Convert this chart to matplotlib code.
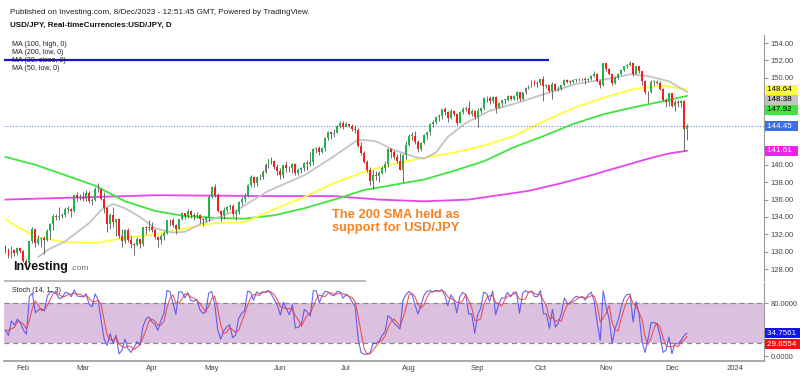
import numpy as np
import pandas as pd
import matplotlib
matplotlib.use("Agg")
import matplotlib.pyplot as plt
from matplotlib.transforms import blended_transform_factory
from matplotlib.lines import Line2D

plt.rcParams['font.family'] = ['Liberation Sans', 'DejaVu Sans']

# daily USD/JPY bars, 24 Jan 2023 - 8 Dec 2023 (open = previous close)
closes = [
    130.17, 129.57, 130.24, 129.87, 130.38, 130.09,
    128.93, 128.66, 131.19, 132.62, 131.06, 131.43, 131.53, 131.36, 132.43, 133.15,
    134.10, 133.95, 134.16, 134.25, 134.93, 134.95, 134.72, 136.47, 136.22, 136.18,
    136.12, 136.74, 135.86, 135.93, 137.16, 137.24, 136.08, 135.02, 133.22, 134.21, 133.40, 133.73,
    131.83, 131.29, 132.49, 131.41, 130.84, 130.73, 131.48, 130.91, 132.85, 132.72, 132.86,
    132.46, 131.69, 131.30, 131.77, 132.19, 133.65, 133.68, 133.09, 132.61, 133.78,
    134.47, 134.11, 134.70, 134.22, 134.14, 134.27, 133.72, 133.65, 133.93, 136.27,
    137.45, 136.55, 134.66, 134.23, 134.83, 135.11, 135.28, 134.35, 134.53, 135.72, 136.10, 136.40,
    137.70, 138.60, 137.96, 138.61, 138.57, 139.21, 139.98, 140.62, 140.39, 139.78, 139.32,
    138.80, 139.92, 139.58, 139.62, 140.13, 139.00, 139.38, 139.62, 140.16, 140.06, 140.27,
    141.84, 141.94, 141.45, 141.89, 143.09, 143.72, 143.50, 143.62, 144.46, 144.79, 144.31,
    144.67, 144.51, 144.11, 144.05, 142.14, 141.31, 140.36, 139.38, 138.09, 138.81, 138.74,
    139.03, 139.66, 140.08, 141.79, 141.52, 140.89, 140.40, 139.44, 141.18, 142.29,
    143.34, 143.36, 142.57, 141.76, 142.47, 143.38, 143.75, 144.70, 144.95, 145.53, 145.60, 146.38,
    146.11, 145.38, 146.20, 145.88, 144.83, 146.07, 146.42, 146.53, 145.87, 146.21, 145.54,
    146.22, 146.48, 147.67, 147.69, 147.28, 147.83, 146.58, 147.11, 147.46, 147.46, 147.85,
    147.61, 147.86, 148.35, 147.58, 148.36, 148.86, 149.06, 149.62, 149.31, 149.37,
    149.86, 149.02, 149.12, 148.50, 149.32, 148.55, 148.74, 149.14, 149.80, 149.57, 149.55,
    149.78, 149.88, 149.82, 149.86, 149.71, 149.91, 150.20, 150.38, 149.63, 149.12, 151.67,
    150.96, 150.43, 149.38, 150.02, 150.38, 150.94, 151.35, 151.51, 151.70, 150.40, 151.35,
    150.76, 149.62, 148.32, 148.38, 149.55, 149.57, 149.44, 148.66, 147.43, 147.19, 148.20,
    146.80, 147.22, 147.16, 147.28, 144.12, 144.45,
]
highs = [
    130.80, 130.45, 130.62, 130.30, 130.50, 130.47,
    130.20, 129.20, 131.20, 132.90, 132.65, 131.90, 131.70, 131.85, 132.60, 133.30,
    134.30, 134.35, 135.10, 134.45, 135.20, 135.30, 135.00, 136.50, 136.90, 136.65,
    136.90, 137.10, 136.95, 136.20, 137.40, 137.91, 137.30, 136.90, 135.10, 134.50, 135.10, 133.80,
    133.90, 132.60, 132.60, 132.70, 131.80, 131.00, 131.70, 131.50, 132.90, 133.00, 133.60,
    133.40, 132.60, 131.80, 132.00, 132.40, 133.70, 133.80, 133.90, 133.20, 133.80,
    134.60, 134.50, 134.90, 134.80, 134.40, 134.60, 134.30, 133.90, 134.10, 136.50,
    137.60, 137.80, 136.70, 134.80, 135.10, 135.30, 135.50, 135.50, 134.80, 135.80, 136.30, 136.70,
    137.80, 138.80, 138.75, 138.70, 138.90, 139.40, 140.20, 140.70, 140.90, 140.50, 140.10,
    139.60, 140.00, 140.40, 139.90, 140.20, 140.20, 139.60, 139.70, 140.30, 140.50, 141.50,
    141.90, 142.00, 142.20, 142.00, 143.20, 143.90, 143.80, 144.10, 144.60, 145.00, 145.05,
    144.90, 144.70, 144.70, 144.60, 144.20, 142.60, 141.60, 140.60, 139.70, 139.40, 139.30,
    139.30, 139.90, 140.40, 141.90, 141.90, 141.70, 141.20, 141.30, 141.20, 142.70,
    143.50, 143.80, 143.90, 142.90, 142.60, 143.50, 143.80, 144.80, 145.20, 145.60, 145.80, 146.40,
    146.60, 146.20, 146.40, 146.30, 146.00, 146.20, 146.60, 146.80, 147.30, 146.40, 146.30,
    146.50, 146.60, 147.80, 147.90, 147.90, 147.90, 147.90, 147.20, 147.50, 147.60, 148.00,
    148.00, 148.00, 148.50, 148.40, 148.40, 148.90, 149.20, 149.70, 149.70, 149.60,
    149.90, 150.16, 149.30, 149.20, 149.50, 149.40, 149.00, 149.20, 149.90, 149.90, 149.70,
    149.90, 149.90, 150.00, 150.00, 150.10, 150.00, 150.30, 150.78, 150.50, 149.70, 151.72,
    151.70, 151.10, 150.60, 150.20, 150.50, 151.00, 151.40, 151.60, 151.91, 151.80, 151.40,
    151.40, 150.80, 149.70, 148.50, 149.70, 149.70, 149.80, 149.60, 148.80, 147.70, 148.30,
    148.30, 147.40, 147.40, 147.50, 147.40, 144.65,
]
lows = [
    129.90, 129.33, 129.30, 129.50, 129.65, 129.90,
    128.80, 128.08, 128.40, 131.00, 130.50, 130.80, 130.50, 129.80, 131.20, 131.50,
    132.50, 133.60, 133.60, 133.90, 134.00, 134.50, 134.05, 134.60, 135.80, 135.90,
    135.80, 135.80, 135.60, 135.40, 135.80, 136.90, 135.90, 134.50, 132.30, 132.60, 132.90, 131.80,
    131.60, 130.60, 131.00, 131.10, 130.40, 129.64, 130.70, 130.40, 130.70, 132.10, 132.40,
    132.30, 131.50, 130.60, 130.90, 131.40, 132.10, 133.00, 132.80, 132.00, 132.60,
    133.60, 133.80, 133.90, 133.90, 133.60, 133.90, 133.30, 133.00, 133.40, 133.50,
    136.20, 136.30, 134.60, 133.50, 133.80, 134.60, 134.80, 134.00, 133.70, 134.30, 135.40, 135.70,
    136.30, 137.50, 137.50, 137.60, 138.20, 138.40, 139.10, 139.60, 140.10, 139.50, 138.80,
    138.40, 138.50, 139.20, 139.20, 139.10, 138.80, 138.80, 139.10, 139.30, 139.40, 139.90,
    140.00, 141.40, 141.10, 141.30, 141.60, 142.90, 143.00, 143.20, 143.60, 144.20, 144.10,
    144.30, 144.40, 143.90, 143.70, 142.10, 141.10, 140.20, 139.20, 137.70, 137.24, 138.30,
    138.00, 138.90, 139.20, 139.70, 140.80, 140.70, 140.20, 139.40, 138.05, 140.70,
    142.20, 142.80, 142.40, 141.50, 141.60, 142.40, 143.00, 143.40, 144.30, 144.70, 145.00, 145.30,
    145.70, 144.90, 145.30, 145.60, 144.60, 144.80, 145.80, 146.20, 145.70, 145.60, 145.30,
    144.40, 146.00, 146.30, 147.20, 147.00, 147.10, 145.90, 146.50, 146.80, 147.00, 147.30,
    147.40, 147.50, 147.50, 147.30, 147.50, 148.10, 148.70, 148.90, 149.10, 148.90,
    149.20, 147.30, 148.80, 148.40, 147.60, 148.50, 148.50, 148.60, 149.00, 149.40, 149.30,
    149.40, 149.50, 149.60, 149.60, 149.30, 149.60, 149.80, 150.10, 149.50, 148.80, 149.00,
    150.80, 150.30, 149.20, 149.30, 149.90, 150.30, 150.80, 151.10, 151.30, 150.20, 150.40,
    150.50, 149.20, 148.10, 147.15, 148.30, 149.10, 149.30, 148.60, 147.30, 146.70, 146.80,
    146.60, 146.20, 146.60, 146.70, 141.60, 142.90,
]

# bars before the visible window (3 - 23 Jan), only used for the stochastic
pre_closes = [130.90, 132.40, 133.40, 132.10, 131.90, 132.20, 132.40, 129.20, 127.90,
              128.50, 128.10, 128.90, 128.40, 129.60, 130.66]
pre_highs = [131.40, 132.70, 134.05, 134.78, 132.70, 132.30, 132.70, 132.90, 129.60,
             128.90, 129.00, 131.60, 129.00, 130.60, 130.90]
pre_lows = [129.50, 130.60, 132.20, 131.90, 131.50, 131.30, 131.90, 128.90, 127.50,
            127.20, 127.80, 128.00, 127.60, 128.30, 129.50]

# moving averages (bar index, price)
ma100_x = [0, 10, 20, 30, 40, 50, 60, 70, 80, 90, 100, 110, 120, 130, 140, 150, 160,
           170, 180, 190, 200, 210, 220, 228]
ma100_y = [140.9, 140.0, 138.8, 137.6, 135.8, 134.7, 134.1, 133.9, 133.8, 134.2, 135.0,
           136.0, 137.1, 137.7, 138.3, 139.3, 140.4, 142.0, 143.3, 144.7, 145.8, 146.6,
           147.3, 147.92]
ma50_x = ma100_x
ma50_y = [133.7, 131.7, 131.1, 131.0, 131.6, 132.0, 132.7, 133.3, 133.4, 134.9, 136.3,
          137.9, 139.2, 140.1, 140.8, 141.4, 142.2, 143.3, 145.0, 146.5, 147.7, 148.7,
          149.1, 148.64]
ma20_x = [11, 14, 20, 28, 32, 36, 40, 45, 50, 56, 60, 66, 77, 88, 100, 110, 118, 124,
          130, 137, 140, 144, 148, 154, 162, 172, 180, 191, 202, 209, 215, 222, 228]
ma20_y = [129.4, 130.2, 131.2, 133.3, 134.8, 135.5, 135.0, 134.0, 132.7, 132.2, 132.3,
          133.3, 134.7, 137.0, 138.8, 141.0, 142.9, 142.7, 141.7, 140.9, 140.7, 141.4,
          143.2, 144.8, 146.2, 147.2, 148.1, 149.3, 149.9, 150.4, 150.2, 149.6, 148.38]
ma200_x = [0, 30, 50, 90, 110, 125, 140, 155, 165, 175, 185, 195, 205, 215, 222, 228]
ma200_y = [136.0, 136.3, 136.5, 136.4, 136.4, 136.0, 135.8, 136.0, 136.5, 137.0, 137.8,
           138.7, 139.7, 140.7, 141.3, 141.61]

resistance = 152.05
resistance_end = "2023-10-05"
month_labels = ["Feb", "Mar", "Apr", "May", "Jun", "Jul", "Aug", "Sep", "Oct", "Nov", "Dec", "2024"]
price_ticks = [128, 130, 132, 134, 136, 138, 140, 150, 152, 154]   # others sit under the value boxes
stoch_ticks = [0, 80]

dates = pd.bdate_range("2023-01-24", "2023-12-08")
idx = np.arange(len(dates))
c = np.array(closes)
h = np.array(highs)
l = np.array(lows)
o = np.r_[pre_closes[-1], c[:-1]]

# stochastic (14, 1, 3)
allc = pd.Series(pre_closes + closes)
allh = pd.Series(pre_highs + highs)
alll = pd.Series(pre_lows + lows)
hh = allh.rolling(14).max()
ll = alll.rolling(14).min()
k = 100 * (allc - ll) / (hh - ll)
d = k.rolling(3).mean()
k = k.values[len(pre_closes):]
d = d.values[len(pre_closes):]

W, H = 800, 376
fig = plt.figure(figsize=(W / 100, H / 100), dpi=100)
def fx(px): return px / W
def fy(py): return 1 - py / H

ax = fig.add_axes([fx(4), fy(281), fx(764) - fx(4), fy(35) - fy(281)])
ax2 = fig.add_axes([fx(4), fy(361), fx(764) - fx(4), fy(283) - fy(361)], sharex=ax)

# moving averages
ax.plot(ma200_x, ma200_y, color="#e845ef", lw=1.3, zorder=1)
ax.plot(ma100_x, ma100_y, color="#3fe43f", lw=1.3, zorder=1)
ax.plot(ma50_x, ma50_y, color="#ffff3a", lw=1.3, zorder=1)
ax.plot(ma20_x, ma20_y, color="#c4c4c4", lw=1.3, zorder=1)

# candles
up = c >= o
ax.vlines(idx, l, h, color="#555555", lw=0.6, zorder=2)
ax.bar(idx, np.maximum(np.abs(c - o), 0.05), bottom=np.minimum(o, c), width=0.65,
       color=np.where(up, "#25b24a", "#ff1a1a"), lw=0, zorder=3)

res_end = dates.get_loc(pd.Timestamp(resistance_end))
ax.hlines(resistance, -0.5, res_end, color="#1414d8", lw=1.6, zorder=4)
ax.axhline(c[-1], color="#6d8fe6", ls=(0, (1, 1.5)), lw=0.8, zorder=1)

ax.set_xlim(-0.5, 253.8)
ax.set_ylim(126.64, 154.92)
for s in ["top", "left", "bottom"]:
    ax.spines[s].set_visible(False)
ax.spines["right"].set_color("#999999")
ax.yaxis.tick_right()
ax.set_yticks(price_ticks)
ax.set_yticklabels([f"{v:.2f}" for v in price_ticks])
ax.tick_params(axis="y", labelsize=5.5, colors="#999999", labelcolor="#444444", length=3, pad=2)
ax.tick_params(axis="x", bottom=False, labelbottom=False)

tr = blended_transform_factory(ax.transAxes, ax.transData)
last = [(ma50_y[-1], "#ffff3a", "#000000"), (ma20_y[-1], "#c4c4c4", "#000000"),
        (ma100_y[-1], "#3fe43f", "#000000"), (c[-1], "#3d6fe0", "#ffffff"),
        (ma200_y[-1], "#ee22ee", "#ffffff")]
prev = None
for val, bg, fg in last:
    pos = val if prev is None else min(val, prev - 1.15)
    prev = pos
    ax.text(1.004, pos, f"{val:.2f}  ", transform=tr, fontsize=5.8, color=fg, va="center",
            ha="left", bbox=dict(boxstyle="square,pad=0.2", fc=bg, ec="none"), zorder=6,
            clip_on=False)

# stochastic panel
ax2.axhspan(20, 80, color="#dcc0e0", lw=0, zorder=0)
ax2.axhline(80, color="#888888", ls=(0, (4, 3)), lw=0.9, zorder=1)
ax2.axhline(20, color="#888888", ls=(0, (4, 3)), lw=0.9, zorder=1)
ax2.plot(idx, k, color="#4a4af0", lw=0.8, alpha=0.85, zorder=2)
ax2.plot(idx, d, color="#f03c3c", lw=0.8, alpha=0.85, zorder=3)
ax2.set_ylim(-7, 110)
for s in ["top", "left"]:
    ax2.spines[s].set_visible(False)
ax2.spines["right"].set_color("#999999")
ax2.spines["bottom"].set_color("#999999")
ax2.spines["bottom"].set_linewidth(1.2)
ax2.yaxis.tick_right()
ax2.set_yticks(stoch_ticks)
ax2.set_yticklabels([f"{v:.4f}" for v in stoch_ticks])
ax2.tick_params(axis="y", labelsize=5.5, colors="#999999", labelcolor="#444444", length=3, pad=2)

tick_days = pd.bdate_range("2023-01-24", "2024-01-31")
firsts = [i for i in range(1, len(tick_days)) if tick_days[i].month != tick_days[i - 1].month]
ax2.set_xticks(firsts)
ax2.set_xticklabels(month_labels)
ax2.tick_params(axis="x", labelsize=5.5, labelcolor="#444444", length=0, pad=3)

tr2 = blended_transform_factory(ax2.transAxes, ax2.transData)
ax2.text(1.004, k[-1], f"{k[-1]:.4f} ", transform=tr2, fontsize=5.8, color="white",
         va="center", ha="left", bbox=dict(boxstyle="square,pad=0.2", fc="#1212ee", ec="none"),
         clip_on=False, zorder=6)
ax2.text(1.004, min(d[-1], k[-1] - 16.5), f"{d[-1]:.4f} ", transform=tr2, fontsize=5.8,
         color="white", va="center", ha="left",
         bbox=dict(boxstyle="square,pad=0.2", fc="#ee1212", ec="none"), clip_on=False, zorder=6)

# texts
fig.text(fx(10), fy(13), "Published on Investing.com, 8/Dec/2023 - 12:51:45 GMT, Powered by TradingView.",
         fontsize=5.85, color="#222222", va="center")
fig.text(fx(10), fy(25), "USD/JPY, Real-timeCurrencies:USD/JPY, D", fontsize=5.8,
         fontweight="bold", color="#111111", va="center")
for i, t in enumerate(["MA (100, high, 0)", "MA (200, low, 0)", "MA (20, close, 0)", "MA (50, low, 0)"]):
    fig.text(fx(12), fy(44 + 8 * i), t, fontsize=5.1, color="#222222", va="center")
fig.text(fx(12), fy(290), "Stoch (14, 1, 3)", fontsize=5.1, color="#222222", va="center")
fig.text(fx(332), fy(221.5), "The 200 SMA held as\nsupport for USD/JPY", fontsize=9.3,
         fontweight="bold", color="#f7801f", va="center", linespacing=1.15)
fig.text(fx(13), fy(267), "Investing", fontsize=9.0, fontweight="bold", color="#111111",
         va="center")
fig.text(fx(70), fy(268.5), ".com", fontsize=6, color="#666666", va="center")
fig.add_artist(Line2D([fx(5), fx(365)], [fy(281), fy(281)], color="#b4b4b4", lw=1.3))

fig.savefig("out.png", dpi=100)
